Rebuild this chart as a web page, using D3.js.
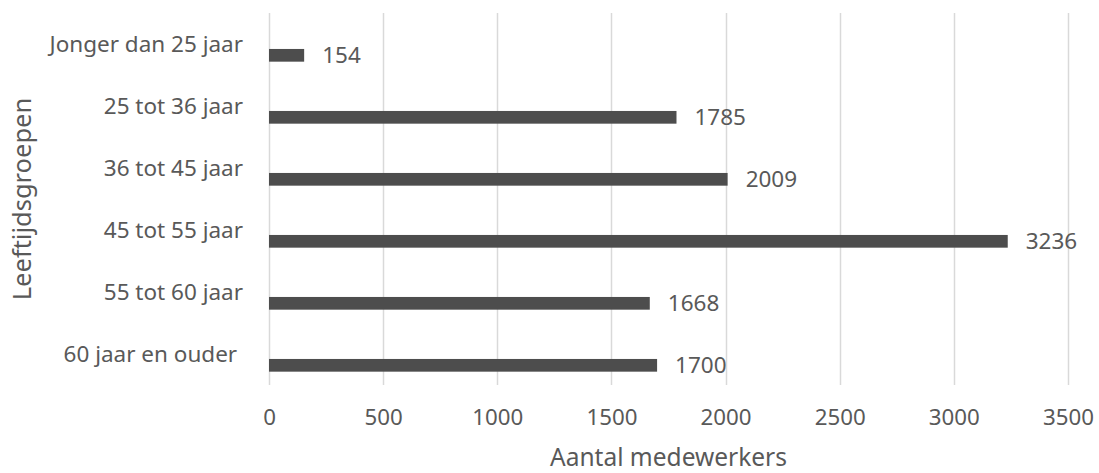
<!DOCTYPE html>
<html>
<head>
<meta charset="utf-8">
<script src="https://cdn.jsdelivr.net/npm/d3@7"></script>
<style>
  html, body { margin: 0; padding: 0; background: #fff; }
  svg { display: block; }
  text { font-family: "Noto Sans", "Open Sans", sans-serif; fill: #595959; }
</style>
</head>
<body>
<svg id="chart" width="1099" height="473"></svg>
<script>
// Age groups (top to bottom) and number of employees per group
const categories = [
  "Jonger dan 25 jaar",
  "25 tot 36 jaar",
  "36 tot 45 jaar",
  "45 tot 55 jaar",
  "55 tot 60 jaar",
  "60 jaar en ouder "
];
const values = [154, 1785, 2009, 3236, 1668, 1700];
const xTicks = [0, 500, 1000, 1500, 2000, 2500, 3000, 3500];
const xTitle = "Aantal medewerkers";
const yTitle = "Leeftijdsgroepen";

const svg = d3.select("#chart");
const plot = { left: 269, right: 1068, top: 13, bottom: 385 };

const x = d3.scaleLinear().domain([0, 3500]).range([plot.left, plot.right]);
const y = d3.scaleBand().domain(categories).range([plot.top, plot.bottom]);

// vertical gridlines
svg.append("g")
  .selectAll("line")
  .data(xTicks)
  .join("line")
  .attr("x1", d => Math.round(x(d)) + 0.5)
  .attr("x2", d => Math.round(x(d)) + 0.5)
  .attr("y1", plot.top)
  .attr("y2", plot.bottom)
  .attr("stroke", "#d9d9d9")
  .attr("stroke-width", 1.5);

// x-axis tick labels
const xAxis = d3.axisBottom(x).tickValues(xTicks).tickFormat(d3.format("d"))
  .tickSize(0).tickPadding(0);
const gx = svg.append("g")
  .attr("transform", `translate(0,${plot.bottom})`)
  .call(xAxis);
gx.select(".domain").remove();
gx.selectAll("text")
  .attr("y", 32)
  .attr("dy", "0.35em")
  .style("font-size", "22.3px")
  .attr("fill", "#595959");

// y-axis category labels
const yAxis = d3.axisLeft(y).tickSize(0).tickPadding(0);
const gy = svg.append("g")
  .attr("transform", `translate(243,0)`)
  .call(yAxis);
gy.select(".domain").remove();
gy.selectAll("text")
  .attr("dy", "0.35em")
  .style("font-size", "22.5px")
  .style("white-space", "pre")
  .attr("fill", "#595959");

// bars, sitting in the lower part of each band
const barTop = 0.58, barH = 0.205;
svg.append("g")
  .selectAll("rect")
  .data(values)
  .join("rect")
  .attr("x", x(0))
  .attr("y", (d, i) => y(categories[i]) + y.bandwidth() * barTop)
  .attr("width", d => x(d) - x(0))
  .attr("height", y.bandwidth() * barH)
  .attr("fill", "#4d4d4d");

// value labels
svg.append("g")
  .selectAll("text")
  .data(values)
  .join("text")
  .attr("x", d => x(d) + 18)
  .attr("y", (d, i) => y(categories[i]) + y.bandwidth() * (barTop + barH / 2))
  .attr("dy", "0.35em")
  .style("font-size", "22.5px")
  .text(d => d);

// axis titles
svg.append("text")
  .attr("x", (plot.left + plot.right) / 2)
  .attr("y", 465.5)
  .attr("text-anchor", "middle")
  .style("font-size", "24.5px")
  .text(xTitle);

svg.append("text")
  .attr("transform", `translate(22,${(plot.top + plot.bottom) / 2}) rotate(-90)`)
  .attr("dy", "0.35em")
  .attr("text-anchor", "middle")
  .style("font-size", "25.5px")
  .text(yTitle);
</script>
</body>
</html>
